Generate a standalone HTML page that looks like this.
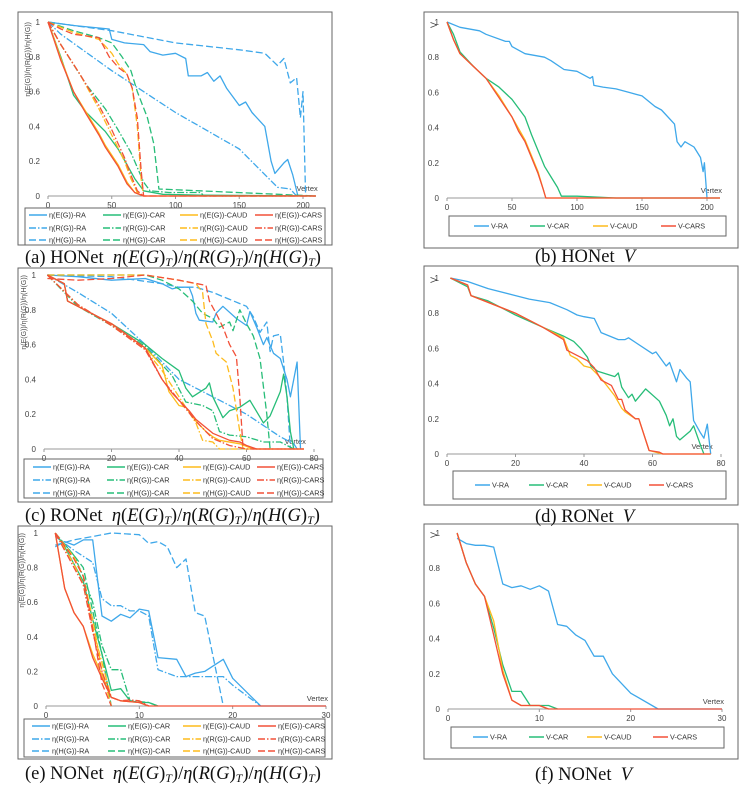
<!DOCTYPE html>
<html><head><meta charset="utf-8">
<style>
body{margin:0;background:#fff;}
#wrap{position:relative;width:756px;height:792px;overflow:hidden;background:#fff;}
.cap{position:absolute;font-family:"Liberation Serif",serif;font-size:18.5px;color:#111;white-space:nowrap;line-height:18px;}
.cap i{font-style:italic;}
.cap sub{font-size:12px;vertical-align:-3px;line-height:0;}
</style></head>
<body>
<div id="wrap">
<svg id="svg" width="756" height="792" xmlns="http://www.w3.org/2000/svg"></svg>
<div class="cap" style="left:25px;top:249px;">(a) HONet&nbsp; <i>η</i>(<i>E</i>(<i>G</i>)<sub><i>T</i></sub>)/<i>η</i>(<i>R</i>(<i>G</i>)<sub><i>T</i></sub>)/<i>η</i>(<i>H</i>(<i>G</i>)<sub><i>T</i></sub>)</div>
<div class="cap" style="left:535px;top:248px;">(b) HONet&nbsp; <i>V</i></div>
<div class="cap" style="left:25px;top:507px;">(c) RONet&nbsp; <i>η</i>(<i>E</i>(<i>G</i>)<sub><i>T</i></sub>)/<i>η</i>(<i>R</i>(<i>G</i>)<sub><i>T</i></sub>)/<i>η</i>(<i>H</i>(<i>G</i>)<sub><i>T</i></sub>)</div>
<div class="cap" style="left:535px;top:508px;">(d) RONet&nbsp; <i>V</i></div>
<div class="cap" style="left:25px;top:765px;">(e) NONet&nbsp; <i>η</i>(<i>E</i>(<i>G</i>)<sub><i>T</i></sub>)/<i>η</i>(<i>R</i>(<i>G</i>)<sub><i>T</i></sub>)/<i>η</i>(<i>H</i>(<i>G</i>)<sub><i>T</i></sub>)</div>
<div class="cap" style="left:535px;top:766px;">(f) NONet&nbsp; <i>V</i></div>
</div>
<script>
// ---------- Panel (a) HONet eta ----------
const a_ERA_x=[0,20,48,50,60,75,80,90,100,108,110,120,125,130,135,140,150,155,160,170,175,178,185,188,192,196];
const a_ERA_y=[1,0.98,0.96,0.9,0.88,0.87,0.83,0.81,0.82,0.79,0.69,0.69,0.71,0.66,0.69,0.62,0.52,0.54,0.48,0.40,0.20,0.13,0.19,0.21,0.12,0];
const a_RRA_x=[0,10,50,75,100,150,180,190,195];
const a_RRA_y=[1,0.93,0.72,0.6,0.48,0.27,0.05,0.04,0];
const a_HRA_x=[0,50,100,150,170,180,185,190,195,198,200,202];
const a_HRA_y=[1,0.95,0.88,0.84,0.82,0.75,0.79,0.65,0.68,0.45,0.6,0];
const a_ECAR_x=[0,5,10,20,30,45,55,62,68,75,90,120,210];
const a_ECAR_y=[1,0.9,0.8,0.58,0.48,0.37,0.27,0.18,0.1,0.03,0.01,0.005,0];
const a_RCAR_x=[0,10,30,45,55,65,75,80,95,120,122,210];
const a_RCAR_y=[1,0.87,0.64,0.5,0.38,0.25,0.08,0.03,0.02,0.02,0,0];
const a_HCAR_x=[0,20,40,50,58,65,70,78,83,87,210];
const a_HCAR_y=[1,0.95,0.91,0.88,0.8,0.72,0.6,0.45,0.3,0.04,0];
const a_ECAUD_x=[0,5,10,20,30,40,45,55,62,68,75,210];
const a_ECAUD_y=[1,0.9,0.79,0.6,0.48,0.36,0.29,0.18,0.08,0.02,0,0];
const a_RCAUD_x=[0,10,25,40,50,60,65,70,75];
const a_RCAUD_y=[1,0.87,0.7,0.5,0.35,0.2,0.1,0.02,0];
const a_HCAUD_x=[0,20,40,50,55,62,66,70,73,75];
const a_HCAUD_y=[1,0.94,0.9,0.82,0.76,0.7,0.62,0.4,0.1,0];
const a_ECARS_x=[0,5,10,20,30,40,45,55,62,68,75,210];
const a_ECARS_y=[1,0.89,0.78,0.6,0.47,0.35,0.28,0.17,0.07,0.02,0,0];
const a_RCARS_x=[0,10,25,40,50,60,65,70,75];
const a_RCARS_y=[1,0.87,0.7,0.52,0.38,0.22,0.12,0.03,0];
const a_HCARS_x=[0,10,20,40,48,55,62,66,70,73,75,210];
const a_HCARS_y=[1,0.96,0.93,0.91,0.8,0.74,0.7,0.62,0.45,0.15,0,0];
const a_xticks=[0,50,100,150,200];
const a_yticks=[0,0.2,0.4,0.6,0.8,1];
const a_ytickLabels=["0","0.2","0.4","0.6","0.8","1"];

// ---------- Panel (c) RONet eta ----------
const c_ERA_x=[1,10,20,30,35,38,40,43,44,45,46,50,51,53,57,60,61,63,65,66,68,70,72,73,75,76];
const c_ERA_y=[1,0.99,0.97,0.98,0.95,0.92,0.93,0.93,0.88,0.78,0.74,0.73,0.78,0.82,0.75,0.71,0.79,0.7,0.6,0.64,0.55,0.52,0.4,0.3,0.5,0];
const c_RRA_x=[1,10,20,30,40,50,60,70,74,75];
const c_RRA_y=[1,0.9,0.78,0.6,0.4,0.3,0.2,0.07,0.03,0];
const c_HRA_x=[1,20,35,40,45,50,55,60,62,64,66,67,68,70,71,72,73];
const c_HRA_y=[1,0.99,0.95,0.93,0.93,0.9,0.86,0.82,0.76,0.67,0.73,0.56,0.65,0.66,0.5,0.3,0];
const c_ECAR_x=[1,6,7,10,20,30,35,40,42,44,48,49,50,53,55,58,61,65,67,70,71,72,73,74];
const c_ECAR_y=[1,0.95,0.85,0.82,0.72,0.6,0.52,0.45,0.35,0.3,0.35,0.38,0.3,0.18,0.22,0.24,0.28,0.15,0.19,0.33,0.43,0.3,0.1,0];
const c_RCAR_x=[1,10,20,30,38,42,47,50,52,55,60,65,70,74];
const c_RCAR_y=[1,0.82,0.71,0.59,0.42,0.27,0.25,0.22,0.1,0.08,0.07,0.04,0.04,0];
const c_HCAR_x=[1,30,35,40,44,47,50,52,55,56,58,60,62,64,65,66,67];
const c_HCAR_y=[1,1,0.97,0.92,0.85,0.78,0.75,0.7,0.73,0.68,0.8,0.72,0.65,0.52,0.36,0.2,0];
const c_ECAUD_x=[1,6,7,20,30,35,37,40,42,45,48,50,52,58,62,77];
const c_ECAUD_y=[1,0.95,0.85,0.72,0.58,0.48,0.33,0.25,0.24,0.16,0.1,0.07,0.05,0.03,0,0];
const c_RCAUD_x=[1,10,20,30,35,40,45,47,50,52,77];
const c_RCAUD_y=[1,0.83,0.71,0.57,0.45,0.3,0.15,0.05,0.04,0,0];
const c_HCAUD_x=[1,30,40,45,47,48,50,51,54,56,58,59];
const c_HCAUD_y=[1,1,0.97,0.95,0.9,0.72,0.62,0.55,0.5,0.35,0.1,0];
const c_ECARS_x=[1,6,7,10,20,30,35,38,40,43,45,50,55,58,60,63,77];
const c_ECARS_y=[1,0.95,0.85,0.82,0.72,0.58,0.4,0.32,0.28,0.22,0.17,0.09,0.05,0.04,0.02,0,0];
const c_RCARS_x=[1,10,20,30,35,40,45,50,55,60,77];
const c_RCARS_y=[1,0.83,0.71,0.57,0.4,0.28,0.16,0.06,0.02,0,0];
const c_HCARS_x=[1,10,20,30,40,48,49,51,53,55,57,58,59];
const c_HCARS_y=[0.98,0.97,0.98,1,0.97,0.94,0.85,0.78,0.7,0.6,0.53,0.3,0];
const c_xticks=[0,20,40,60,80];

// ---------- Panel (e) NONet eta ----------
const e_ERA_x=[1,2,3,4,5,6,7,8,9,10,11,12,14,15,16,17,19,20,23,30];
const e_ERA_y=[0.92,0.95,0.93,0.96,0.96,0.52,0.49,0.53,0.51,0.56,0.55,0.28,0.27,0.17,0.19,0.2,0.27,0.16,0,0];
const e_RRA_x=[1,3,5,6,7,8,9,10,11,12,14,19,20,22,23];
const e_RRA_y=[0.98,0.9,0.83,0.62,0.58,0.58,0.55,0.55,0.52,0.21,0.17,0.17,0.12,0.04,0];
const e_HRA_x=[1,3,5,7,10,11,12,13,14,15,16,17,19];
const e_HRA_y=[0.93,0.96,0.98,1,0.99,0.94,0.95,0.92,0.8,0.85,0.54,0.52,0];
const e_ECAR_x=[1,2,3,4,5,6,7,8,9,10,11,12];
const e_ECAR_y=[1,0.92,0.82,0.72,0.5,0.3,0.09,0.1,0.03,0.02,0.02,0];
const e_RCAR_x=[1,3,4,5,6,7,8,9,11,12];
const e_RCAR_y=[1,0.87,0.75,0.6,0.35,0.21,0.21,0.03,0.02,0];
const e_HCAR_x=[1,3,4,5,6,7];
const e_HCAR_y=[1,0.87,0.8,0.55,0.3,0];
const e_ECAUD_x=[1,2,3,4,5,6,7,8,10,11];
const e_ECAUD_y=[1,0.68,0.54,0.46,0.3,0.18,0.05,0.03,0.02,0];
const e_RCAUD_x=[1,3,4,5,6,7,8,10,11];
const e_RCAUD_y=[1,0.82,0.7,0.45,0.25,0.05,0.03,0.02,0];
const e_HCAUD_x=[1,3,4,5,6,7];
const e_HCAUD_y=[1,0.86,0.75,0.5,0.2,0];
const e_ECARS_x=[1,2,3,4,5,6,7,8,10,11,30];
const e_ECARS_y=[1,0.68,0.54,0.46,0.28,0.16,0.05,0.03,0.02,0,0];
const e_RCARS_x=[1,3,4,5,6,7,8,9,10,11];
const e_RCARS_y=[1,0.8,0.7,0.43,0.2,0.05,0.03,0.035,0.03,0];
const e_HCARS_x=[1,3,4,5,6,7];
const e_HCARS_y=[1,0.85,0.75,0.45,0.13,0];
const e_xticks=[0,10,20,30];

// ---------- Panel (b) HONet V ----------
const b_RA_x=[0,10,25,30,45,48,50,60,75,80,90,100,110,112,113,120,130,140,150,160,165,175,177,180,183,190,195,197,198,200];
const b_RA_y=[1,0.97,0.95,0.93,0.89,0.89,0.86,0.82,0.8,0.78,0.73,0.72,0.68,0.69,0.64,0.63,0.62,0.6,0.58,0.52,0.5,0.42,0.32,0.29,0.32,0.29,0.23,0.15,0.2,0];
const b_CAR_x=[0,5,10,20,30,40,50,60,65,70,75,80,85,88,100,130,210];
const b_CAR_y=[1,0.93,0.83,0.75,0.68,0.63,0.56,0.46,0.36,0.27,0.18,0.12,0.06,0.01,0.01,0,0];
const b_CAUD_x=[0,5,10,20,30,40,50,60,65,70,74,76,210];
const b_CAUD_y=[1,0.9,0.82,0.75,0.68,0.58,0.46,0.33,0.24,0.15,0.05,0,0];
const b_CARS_x=[0,5,10,20,30,40,50,55,60,65,70,74,76,210];
const b_CARS_y=[1,0.9,0.82,0.75,0.68,0.57,0.46,0.38,0.32,0.23,0.14,0.05,0,0];

// ---------- Panel (d) RONet V ----------
const d_RA_x=[1,6,12,20,24,30,35,38,40,43,45,50,52,53,60,61,64,65,67,68,70,71,72,74,75,76,77];
const d_RA_y=[1,0.98,0.94,0.9,0.88,0.86,0.82,0.79,0.78,0.77,0.69,0.65,0.65,0.66,0.57,0.58,0.5,0.52,0.41,0.48,0.43,0.41,0.19,0.12,0.09,0.17,0];
const d_CAR_x=[1,6,7,12,20,28,34,37,39,41,42,44,49,50,51,53,54,55,58,62,64,65,66,67,68,71,72,74,75];
const d_CAR_y=[1,0.95,0.9,0.87,0.79,0.72,0.67,0.64,0.6,0.55,0.5,0.47,0.44,0.46,0.38,0.32,0.34,0.3,0.37,0.3,0.22,0.16,0.2,0.1,0.08,0.13,0.16,0.05,0];
const d_CAUD_x=[1,6,7,20,28,34,36,38,40,42,45,47,49,51,52,55,56,59,61,63,77];
const d_CAUD_y=[1,0.96,0.9,0.8,0.72,0.66,0.56,0.54,0.5,0.49,0.43,0.38,0.33,0.26,0.24,0.2,0.2,0.02,0.01,0,0];
const d_CARS_x=[1,6,7,20,28,34,35,38,41,43,45,48,50,51,52,55,56,59,62,63,77];
const d_CARS_y=[1,0.96,0.9,0.8,0.72,0.65,0.59,0.56,0.53,0.49,0.42,0.39,0.31,0.31,0.25,0.2,0.2,0.02,0.01,0,0];

// ---------- Panel (f) NONet V ----------
const f_RA_x=[1,2,3,4,5,6,7,8,9,10,11,12,13,14,15,16,17,18,20,23,30];
const f_RA_y=[0.97,0.94,0.93,0.93,0.92,0.71,0.69,0.7,0.68,0.7,0.67,0.48,0.47,0.42,0.39,0.3,0.3,0.2,0.09,0,0];
const f_CAR_x=[1,2,3,4,5,6,7,8,9,11,12];
const f_CAR_y=[1,0.83,0.71,0.64,0.46,0.25,0.1,0.1,0.02,0.02,0];
const f_CAUD_x=[1,2,3,4,5,6,7,8,10,11];
const f_CAUD_y=[1,0.83,0.71,0.64,0.5,0.22,0.05,0.02,0.02,0];
const f_CARS_x=[1,2,3,4,5,6,7,8,10,11,30];
const f_CARS_y=[1,0.83,0.71,0.64,0.42,0.2,0.05,0.02,0.02,0,0];

const BLUE="#3fa8ea",GREEN="#27bd78",YEL="#fdbb1c",RED="#f25038";
const SOLID="",DASHDOT="7,2,1.5,2",DASH="7,3";
const NS="http://www.w3.org/2000/svg";
const svg=document.getElementById('svg');
function mk(tag,attrs,parent){const el=document.createElementNS(NS,tag);for(const k in attrs)el.setAttribute(k,attrs[k]);(parent||svg).appendChild(el);return el;}

function panel(id,g,xmax,xticks,series,legend){
  const grp=mk('g',{});
  
  
  const fr=mk('rect',{x:g.fx,y:g.fy,width:g.fw,height:g.fh,fill:'#fff',stroke:'#666','stroke-width':1},grp);
  
  
  const sx=v=>g.x0+(v-0)*(g.x1-g.x0)/(g.xr);
  const sy=v=>g.y0-v*(g.y0-g.y1);
  const ax=mk('line',{x1:g.x0,y1:g.y0,x2:sx(xmax),y2:g.y0,stroke:'#999','stroke-width':1},grp);
  
  
  xticks.forEach(t=>{
    const tl=mk('line',{x1:sx(t),y1:g.y0,x2:sx(t),y2:g.y0+3,stroke:'#999'},grp);
    
    
    const tx=mk('text',{x:sx(t),y:g.y0+12,'font-size':8,'text-anchor':'middle',fill:'#444','font-family':'Liberation Sans, sans-serif'},grp);
    tx.textContent=t;
    
    
  });
  a_yticks.forEach((t,i)=>{
    const tx=mk('text',{x:g.x0-8,y:sy(t)+3,'font-size':8,'text-anchor':'end',fill:'#444','font-family':'Liberation Sans, sans-serif'},grp);
    tx.textContent=a_ytickLabels[i];
    
    
  });
  const vx=mk('text',{x:sx(xmax)+2,y:g.y0-5,'font-size':7.5,'text-anchor':'end',fill:'#444','font-family':'Liberation Sans, sans-serif'},grp);
  vx.textContent='Vertex';
  
  
  const yt=mk('text',{transform:'translate('+g.ytx+','+g.yty+') rotate(-90)','font-size':g.ytfs,'text-anchor':g.yta,fill:'#444','font-family':'Liberation Sans, sans-serif'},grp);
  yt.textContent=g.ytitle;
  
  
  series.forEach(s=>{
    const pts=s.x.map((v,i)=>sx(v).toFixed(1)+','+sy(s.y[i]).toFixed(1)).join(' ');
    const attrs={points:pts,fill:'none',stroke:s.c,'stroke-width':1.3,'stroke-linejoin':'round'};
    if(s.d)attrs['stroke-dasharray']=s.d;
    const pl=mk('polyline',attrs,grp);
    
    
  });
  const lb=mk('rect',{x:legend.x,y:legend.y,width:legend.w,height:legend.h,fill:'none',stroke:'#666'},grp);
  
  
  series.forEach((s,i)=>{
    const col=legend.order? legend.order[i][0]:i;
    const row=legend.order? legend.order[i][1]:0;
    const lx=legend.cx[col], ly=legend.ry[row];
    const la={x1:lx,y1:ly,x2:lx+legend.sl,y2:ly,stroke:s.c,'stroke-width':1.5};
    if(s.d)la['stroke-dasharray']=s.d;
    const ll=mk('line',la,grp);
    
    
    const lt=mk('text',{x:lx+legend.sl+2,y:ly+2.6,'font-size':7.3,fill:'#333','font-family':'Liberation Sans, sans-serif'},grp);
    lt.textContent=s.n;
    
    
  });
}
function etaSeries(p,E,R,H){
  const algs=['RA','CAR','CAUD','CARS'],cols=[BLUE,GREEN,YEL,RED];
  const out=[];const order=[];
  algs.forEach((a,ai)=>{
    out.push({n:'η(E(G))-'+a,x:E[ai][0],y:E[ai][1],c:cols[ai],d:SOLID});order.push([ai,0]);
    out.push({n:'η(R(G))-'+a,x:R[ai][0],y:R[ai][1],c:cols[ai],d:DASHDOT});order.push([ai,1]);
    out.push({n:'η(H(G))-'+a,x:H[ai][0],y:H[ai][1],c:cols[ai],d:DASH});order.push([ai,2]);
  });
  return {s:out,order:order};
}
let A=etaSeries('a',
 [[a_ERA_x,a_ERA_y],[a_ECAR_x,a_ECAR_y],[a_ECAUD_x,a_ECAUD_y],[a_ECARS_x,a_ECARS_y]],
 [[a_RRA_x,a_RRA_y],[a_RCAR_x,a_RCAR_y],[a_RCAUD_x,a_RCAUD_y],[a_RCARS_x,a_RCARS_y]],
 [[a_HRA_x,a_HRA_y],[a_HCAR_x,a_HCAR_y],[a_HCAUD_x,a_HCAUD_y],[a_HCARS_x,a_HCARS_y]]);
panel('a',{fx:18,fy:12,fw:314,fh:233,x0:48,x1:303,xr:200,y0:196,y1:22,ytx:30,yty:22,ytfs:7,yta:'end',ytitle:'η(E(G))/η(R(G))/η(H(G))'},210,a_xticks,A.s,
 {x:25,y:208,w:300,h:37,order:A.order,cx:[29,103,180,255],ry:[215,228,240],sl:18});
let C=etaSeries('c',
 [[c_ERA_x,c_ERA_y],[c_ECAR_x,c_ECAR_y],[c_ECAUD_x,c_ECAUD_y],[c_ECARS_x,c_ECARS_y]],
 [[c_RRA_x,c_RRA_y],[c_RCAR_x,c_RCAR_y],[c_RCAUD_x,c_RCAUD_y],[c_RCARS_x,c_RCARS_y]],
 [[c_HRA_x,c_HRA_y],[c_HCAR_x,c_HCAR_y],[c_HCAUD_x,c_HCAUD_y],[c_HCARS_x,c_HCARS_y]]);
panel('c',{fx:18,fy:268,fw:314,fh:234,x0:44,x1:314,xr:80,y0:449,y1:275,ytx:26,yty:275,ytfs:7,yta:'end',ytitle:'η(E(G))/η(R(G))/η(H(G))'},77,c_xticks,C.s,
 {x:24,y:459,w:299,h:39,order:C.order,cx:[33,107,183,257],ry:[467,480,493],sl:18});
let E=etaSeries('e',
 [[e_ERA_x,e_ERA_y],[e_ECAR_x,e_ECAR_y],[e_ECAUD_x,e_ECAUD_y],[e_ECARS_x,e_ECARS_y]],
 [[e_RRA_x,e_RRA_y],[e_RCAR_x,e_RCAR_y],[e_RCAUD_x,e_RCAUD_y],[e_RCARS_x,e_RCARS_y]],
 [[e_HRA_x,e_HRA_y],[e_HCAR_x,e_HCAR_y],[e_HCAUD_x,e_HCAUD_y],[e_HCARS_x,e_HCARS_y]]);
panel('e',{fx:18,fy:526,fw:314,fh:233,x0:46,x1:326,xr:30,y0:706,y1:533,ytx:24,yty:533,ytfs:7,yta:'end',ytitle:'η(E(G))/η(R(G))/η(H(G))'},30,e_xticks,E.s,
 {x:24,y:719,w:301,h:38,order:E.order,cx:[32,108,183,258],ry:[726,739,751],sl:18});
function vSeries(ra,car,caud,cars){
  return [{n:'V-RA',x:ra[0],y:ra[1],c:BLUE},{n:'V-CAR',x:car[0],y:car[1],c:GREEN},{n:'V-CAUD',x:caud[0],y:caud[1],c:YEL},{n:'V-CARS',x:cars[0],y:cars[1],c:RED}];
}
panel('b',{fx:424,fy:12,fw:314,fh:236,x0:447,x1:707,xr:200,y0:198,y1:22,ytx:437,yty:25,ytfs:9,yta:'middle',ytitle:'V'},210,a_xticks,
 vSeries([b_RA_x,b_RA_y],[b_CAR_x,b_CAR_y],[b_CAUD_x,b_CAUD_y],[b_CARS_x,b_CARS_y]),
 {x:449,y:216,w:277,h:20,cx:[474,530,593,661],ry:[226],sl:15});
panel('d',{fx:424,fy:266,fw:314,fh:239,x0:447,x1:721,xr:80,y0:454,y1:278,ytx:437,yty:280,ytfs:9,yta:'middle',ytitle:'V'},77,c_xticks,
 vSeries([d_RA_x,d_RA_y],[d_CAR_x,d_CAR_y],[d_CAUD_x,d_CAUD_y],[d_CARS_x,d_CARS_y]),
 {x:453,y:471,w:273,h:28,cx:[475,529,587,649],ry:[485],sl:15});
panel('f',{fx:424,fy:524,fw:314,fh:235,x0:448,x1:722,xr:30,y0:709,y1:533,ytx:437,yty:535,ytfs:9,yta:'middle',ytitle:'V'},30,e_xticks,
 vSeries([f_RA_x,f_RA_y],[f_CAR_x,f_CAR_y],[f_CAUD_x,f_CAUD_y],[f_CARS_x,f_CARS_y]),
 {x:451,y:727,w:273,h:21,cx:[473,529,587,653],ry:[737],sl:15});
</script>
</body></html>
